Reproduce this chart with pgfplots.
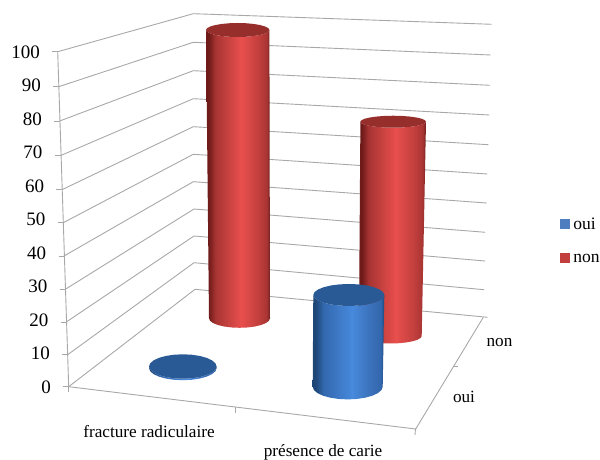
\documentclass[border=0pt]{standalone}
\usepackage{pgfplots}
\usepackage{pgfplotstable}
\usepackage{fontspec}
\setmainfont{Liberation Serif}
\pgfplotsset{compat=1.18}
\definecolor{r0}{HTML}{6E1A19}\definecolor{r1}{HTML}{A83533}\definecolor{r2}{HTML}{E84F4D}\definecolor{r3}{HTML}{C23F3D}\definecolor{r4}{HTML}{6E1F1D}
\definecolor{b0}{HTML}{1E4778}\definecolor{b1}{HTML}{3368AE}\definecolor{b2}{HTML}{4789DC}\definecolor{b3}{HTML}{3A70B8}\definecolor{b4}{HTML}{1E4778}
\definecolor{redcap}{HTML}{962F2C}\definecolor{bluecap}{HTML}{2A5A96}
\definecolor{wallgray}{HTML}{A8A8A8}
\pgfdeclarehorizontalshading{redcyl}{100bp}{color(0bp)=(r0);color(27bp)=(r0);color(32.5bp)=(r1);color(52.5bp)=(r2);color(66bp)=(r3);color(72.5bp)=(r1);color(75bp)=(r4);color(100bp)=(r4)}
\pgfdeclarehorizontalshading{bluecyl}{100bp}{color(0bp)=(b0);color(27bp)=(b0);color(32.5bp)=(b1);color(52.5bp)=(b2);color(66bp)=(b3);color(72.5bp)=(b1);color(75bp)=(b4);color(100bp)=(b4)}
\pgfplotstableread{
c s h
-1.000 0.000 0
-0.966 -0.259 0
-0.866 -0.500 0
-0.707 -0.707 0
-0.500 -0.866 0
-0.259 -0.966 0
0.000 -1.000 0
0.259 -0.966 0
0.500 -0.866 0
0.707 -0.707 0
0.866 -0.500 0
0.966 -0.259 0
1.000 0.000 0
1.000 0.000 1
0.966 -0.259 1
0.866 -0.500 1
0.707 -0.707 1
0.500 -0.866 1
0.259 -0.966 1
0.000 -1.000 1
-0.259 -0.966 1
-0.500 -0.866 1
-0.707 -0.707 1
-0.866 -0.500 1
-0.966 -0.259 1
-1.000 0.000 1
}\bodyoutline
\pgfplotstableread{
c s h
1.000 0.000 1
0.966 0.259 1
0.866 0.500 1
0.707 0.707 1
0.500 0.866 1
0.259 0.966 1
0.000 1.000 1
-0.259 0.966 1
-0.500 0.866 1
-0.707 0.707 1
-0.866 0.500 1
-0.966 0.259 1
-1.000 0.000 1
-0.966 -0.259 1
-0.866 -0.500 1
-0.707 -0.707 1
-0.500 -0.866 1
-0.259 -0.966 1
0.000 -1.000 1
0.259 -0.966 1
0.500 -0.866 1
0.707 -0.707 1
0.866 -0.500 1
0.966 -0.259 1
}\capoutline
% #1 shading, #2 cap colour, #3 value, #4 px per unit at this depth,
% #5 base cx, #6 base y (px), #7 base a, #8 base b, #9 top cx; \ta \tb top a and b
\newcommand\cyl[9]{%
 \def\tcx{#9}%
 \addplot[shading=#1,draw=none,forget plot] table[
   x expr={#5+\thisrow{h}*(\tcx-(#5))+(#7+\thisrow{h}*(\ta-(#7)))*\thisrow{c}},
   y expr={(386.7-(#6))/3.35+\thisrow{h}*(#3)*(#4)/3.35+(#8+\thisrow{h}*(\tb-(#8)))*\thisrow{s}/3.35}]{\bodyoutline};
 \addplot[fill=#2,draw=none,forget plot] table[
   x expr={\tcx+\ta*\thisrow{c}},
   y expr={(386.7-(#6))/3.35+(#3)*(#4)/3.35+\tb*\thisrow{s}/3.35}]{\capoutline};
}
\newcommand\wall[1]{\addplot[wallgray,line width=0.9pt,forget plot] table[row sep=\\,x=px,y expr={(386.7-\thisrow{py})/3.35}]{px py\\ #1};}
\begin{document}
\begin{tikzpicture}[x=1pt,y=1pt]
\useasboundingbox (0,0) rectangle (600,460);
\begin{axis}[
  at={(0pt,73.3pt)},anchor=south west,
  scale only axis,width=600pt,height=335pt,
  xmin=0,xmax=600,ymin=0,ymax=100,
  hide axis,clip=false,
  legend cell align=left,
  legend style={at={(axis cs:560.3,50.3)},anchor=north west,draw=none,fill=none,inner sep=0pt,outer sep=0pt,
    font=\fontsize{17.5}{20}\selectfont,row sep=23.5pt,nodes={inner sep=0pt,text depth=0pt}},
]
% walls: left edge - back corner - right edge, one line per 10 units
\wall{57.7 51.7\\ 193.3 13.7\\ 491.7 24.3\\}
\wall{58.7 86.7\\ 193.3 42.3\\ 490.7 55\\}
\wall{59.7 121\\ 193.3 70.7\\ 490 85.3\\}
\wall{60.3 155.7\\ 193.3 98.7\\ 489.3 115\\}
\wall{62 189.7\\ 193.3 126.7\\ 488.3 144.7\\}
\wall{63.3 222.7\\ 193.3 154.3\\ 487.3 174\\}
\wall{64 256\\ 193.3 181.7\\ 486.7 203\\}
\wall{65.3 289.3\\ 194 209\\ 485.3 232.3\\}
\wall{66.3 322\\ 194 236\\ 485 261\\}
\wall{67.7 354.7\\ 194 262.7\\ 484 289.7\\}
\wall{68.7 386.7\\ 195 289.3\\ 487.7 317.3\\}
% left edge
\wall{57.7 51.7\\ 68.7 386.7\\}
% floor edges
\wall{68.7 386.7\\ 415.7 429\\ 483.3 317.3\\}
% ticks
\wall{52 51.7\\ 57.7 51.7\\}\wall{53 86.7\\ 58.7 86.7\\}\wall{54 121\\ 59.7 121\\}
\wall{54.5 155.7\\ 60.3 155.7\\}\wall{56 189.7\\ 62 189.7\\}\wall{57.5 222.7\\ 63.3 222.7\\}
\wall{58.5 256\\ 64 256\\}\wall{59.5 289.3\\ 65.3 289.3\\}\wall{60.5 322\\ 66.3 322\\}
\wall{62 354.7\\ 67.7 354.7\\}\wall{62.7 386.7\\ 68.7 386.7\\}
\wall{68.7 386.7\\ 68.7 392.5\\}\wall{235.3 407.5\\ 235.3 413\\}\wall{415.5 429\\ 415 435\\}
\wall{453.3 366.7\\ 458 366.7\\}
% left-axis numbers
\addplot[draw=none,forget plot,point meta=explicit symbolic,
  nodes near coords,
  nodes near coords style={anchor=east,inner sep=0pt,xshift=-17.7pt,yshift=-0.5pt,font=\fontsize{19}{20}\selectfont}]
 table[x=px,y=v,meta=v]{
px v
68.7 0
67.7 10
66.3 20
65.3 30
64 40
63.3 50
62 60
60.3 70
59.7 80
58.7 90
57.7 100
};
% cylinders (100, 70, 30, 0)
\def\ta{31.7}\def\tb{7}
\cyl{redcyl}{redcap}{100}{2.883}{239.5}{318.3}{30.5}{9.5}{237.7}
\def\ta{32.8}\def\tb{6}
\cyl{redcyl}{redcap}{70}{3.061}{390.3}{336}{31.4}{7.5}{393.2}
\def\ta{33.8}\def\tb{12.2}
\cyl{bluecyl}{bluecap}{0.5}{3}{182.8}{368}{33.8}{12.2}{182.8}
\def\ta{35.5}\def\tb{11}
\cyl{bluecyl}{bluecap}{30}{3.057}{347.7}{386.7}{35}{12.7}{348.8}
% legend
\addlegendimage{legend image code/.code={\fill[fill=b3!90!white,draw=none] (0pt,-4.8pt) rectangle (9.2pt,4.8pt);\path[draw=none] (0pt,0pt) -- (13pt,0pt);}}
\addlegendentry{oui}
\addlegendimage{legend image code/.code={\fill[fill=r3,draw=none] (0pt,-4.8pt) rectangle (9.2pt,4.8pt);\path[draw=none] (0pt,0pt) -- (13pt,0pt);}}
\addlegendentry{non}
% category labels
\node[font=\fontsize{17.2}{20}\selectfont,inner sep=0pt] at (axis cs:149,{(386.7-431.7)/3.35}) {fracture radiculaire};
\node[font=\fontsize{17.2}{20}\selectfont,inner sep=0pt] at (axis cs:323,{(386.7-452.5)/3.35}) {présence de carie};
\node[font=\fontsize{17.2}{20}\selectfont,inner sep=0pt] at (axis cs:499.5,{(386.7-342.5)/3.35}) {non};
\node[font=\fontsize{17.2}{20}\selectfont,inner sep=0pt] at (axis cs:464,{(386.7-397)/3.35}) {oui};
\end{axis}
\end{tikzpicture}
\end{document}
